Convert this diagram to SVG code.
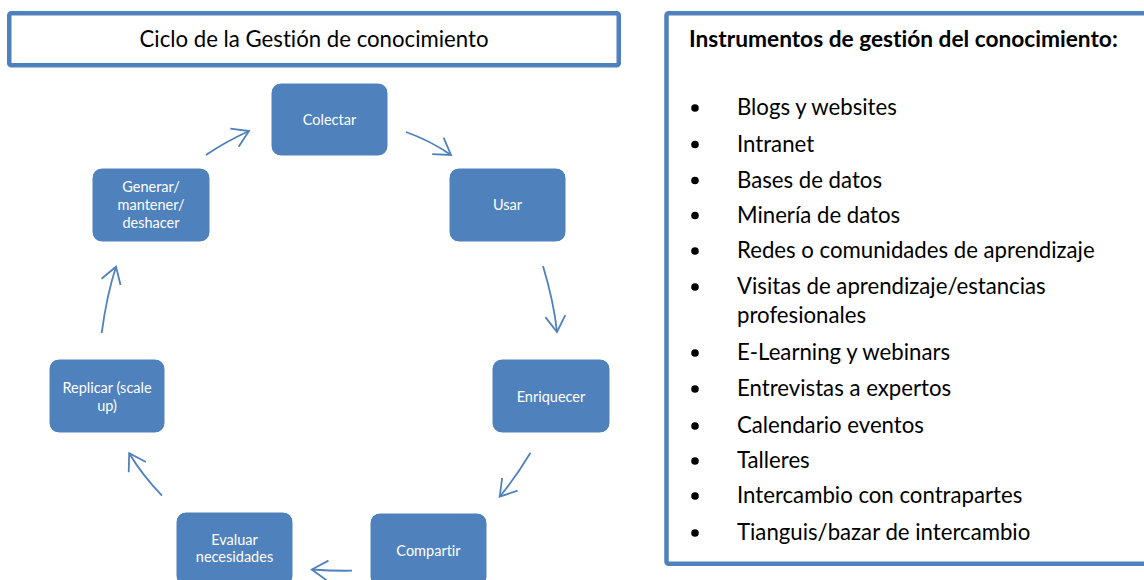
<svg xmlns="http://www.w3.org/2000/svg" width="1144" height="580" viewBox="0 0 1144 580">
<style>
text{font-variant-ligatures:none;font-feature-settings:"liga" 0}
.node rect{fill:#4F81BD;stroke:#ffffff;stroke-width:1}
.node text{fill:#ffffff;font-family:Lato,"Liberation Sans",sans-serif;font-size:14.5px;text-anchor:middle}
.frame{fill:#ffffff;stroke:#4F81BD;stroke-width:4.5}
.big{font-family:Lato,"Liberation Sans",sans-serif;font-size:22.2px;fill:#000000}
.conn path{fill:none;stroke:#4F81BD;stroke-width:1.8}
.bul{fill:#000000}
</style>
<defs>
<marker id="arr" markerUnits="userSpaceOnUse" orient="auto" markerWidth="40" markerHeight="40" refX="0" refY="0" viewBox="-20 -20 40 40" overflow="visible">
<path d="M-16,-10 L0,0 L-16,10" fill="none" stroke="#4F81BD" stroke-width="1.8"/>
</marker>
</defs>
<rect width="1144" height="580" fill="#ffffff"/>
<g id="title">
<rect class="frame" x="9.25" y="13.25" width="609.5" height="52" rx="2"/>
<text class="big" x="314" y="47" text-anchor="middle" font-size="22px">Ciclo de la Gestión de conocimiento</text>
</g>
<g id="instrumentos">
<rect class="frame" x="666.5" y="13.25" width="500" height="550.5" rx="2"/>
<text class="big" x="689" y="47" font-weight="bold" style="font-size:22.7px">Instrumentos de gestión del conocimiento:</text>
<g class="bul">
<circle cx="695" cy="108" r="3.8"/>
<circle cx="695" cy="144.5" r="3.8"/>
<circle cx="695" cy="180.5" r="3.8"/>
<circle cx="695" cy="215.5" r="3.8"/>
<circle cx="695" cy="251" r="3.8"/>
<circle cx="695" cy="287" r="3.8"/>
<circle cx="695" cy="353" r="3.8"/>
<circle cx="695" cy="389" r="3.8"/>
<circle cx="695" cy="426" r="3.8"/>
<circle cx="695" cy="461" r="3.8"/>
<circle cx="695" cy="496" r="3.8"/>
<circle cx="695" cy="533" r="3.8"/>
</g>
<text class="big" x="737" y="115">Blogs y websites</text>
<text class="big" x="737" y="151.5">Intranet</text>
<text class="big" x="737" y="187.5">Bases de datos</text>
<text class="big" x="737" y="222.5">Minería de datos</text>
<text class="big" x="737" y="258">Redes o comunidades de aprendizaje</text>
<text class="big" x="737" y="294">Visitas de aprendizaje/estancias</text>
<text class="big" x="737" y="323">profesionales</text>
<text class="big" x="737" y="360">E-Learning y webinars</text>
<text class="big" x="737" y="396">Entrevistas a expertos</text>
<text class="big" x="737" y="433">Calendario eventos</text>
<text class="big" x="737" y="468">Talleres</text>
<text class="big" x="737" y="503">Intercambio con contrapartes</text>
<text class="big" x="737" y="540">Tianguis/bazar de intercambio</text>
</g>
<g id="colectar" class="node">
<rect x="271" y="83" width="117" height="73" rx="10"/>
<text x="329.5" y="125">Colectar</text>
</g>
<g id="usar" class="node">
<rect x="449" y="168" width="117" height="74" rx="10"/>
<text x="507.5" y="210">Usar</text>
</g>
<g id="enriquecer" class="node">
<rect x="492" y="359" width="118" height="74" rx="10"/>
<text x="551" y="402">Enriquecer</text>
</g>
<g id="compartir" class="node">
<rect x="370" y="513" width="117" height="74" rx="10"/>
<text x="428.5" y="556">Compartir</text>
</g>
<g id="evaluar" class="node">
<rect x="176" y="512" width="117" height="74" rx="10"/>
<text x="234.5" y="545">Evaluar</text>
<text x="234.5" y="562">necesidades</text>
</g>
<g id="replicar" class="node">
<rect x="49" y="359" width="116" height="74" rx="10"/>
<text x="107" y="393">Replicar (scale</text>
<text x="107" y="411">up)</text>
</g>
<g id="generar" class="node">
<rect x="92" y="168" width="118" height="74" rx="10"/>
<text x="151" y="192">Generar/</text>
<text x="151" y="210">mantener/</text>
<text x="151" y="228">deshacer</text>
</g>
<g id="connectors" class="conn">
<path d="M206,155 Q225,142 249,131" marker-end="url(#arr)"/>
<path d="M406,132 Q430.5,140.7 451,155" marker-end="url(#arr)"/>
<path d="M543,266 Q553.9,302.2 557,332" marker-end="url(#arr)"/>
<path d="M530.5,452.7 Q515.6,477.4 499.7,496.7" marker-end="url(#arr)"/>
<path d="M352,570.7 Q333,571 311.8,569.5" marker-end="url(#arr)"/>
<path d="M162,495.7 Q141.9,474.8 129.2,453.3" marker-end="url(#arr)"/>
<path d="M101.7,333 Q106.7,295.2 116,266.7" marker-end="url(#arr)"/>
</g>
</svg>
